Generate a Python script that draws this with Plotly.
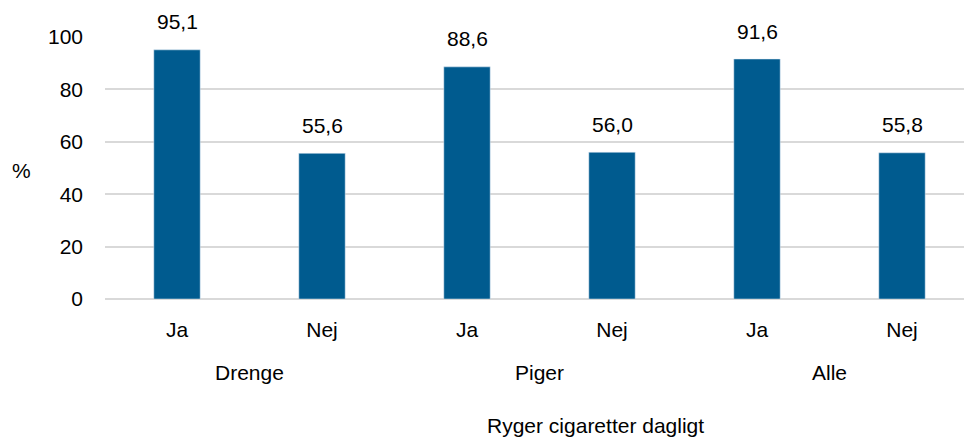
import plotly.graph_objects as go

groups = ["Drenge", "Piger", "Alle"]
answers = ["Ja", "Nej", "Ja", "Nej", "Ja", "Nej"]
values = [95.1, 55.6, 88.6, 56.0, 91.6, 55.8]

W, H = 964, 439
left, right, top, bottom = 105, 0, 37, 140
plot_w = W - left - right
plot_h = H - top - bottom
step = 145  # px per category
x0 = -(177 - left) / step
xs = list(range(len(answers)))

fig = go.Figure(go.Bar(
    x=xs, y=values, marker_color="#005B8F", width=0.32,
))

# value labels above the bars
for x, v in zip(xs, values):
    fig.add_annotation(x=x, y=v, text=f"{v:.1f}".replace(".", ","), showarrow=False,
                       yshift=28, font=dict(size=21))

# group labels under Ja/Nej
for i, g in enumerate(groups):
    fig.add_annotation(x=2 * i + 0.5, y=-(372 - 299) / plot_h, yref="paper", text=g,
                       showarrow=False, font=dict(size=21), yanchor="middle")

fig.update_layout(
    width=W, height=H,
    margin=dict(l=left, r=right, t=top, b=bottom),
    plot_bgcolor="white", paper_bgcolor="white",
    font=dict(family="Liberation Sans, Arial", size=21, color="#000000"),
    showlegend=False,
)
fig.update_xaxes(range=[x0, x0 + plot_w / step], tickvals=xs, ticktext=answers,
                 ticks="", showline=False, showgrid=False, zeroline=False,
                 ticklabelstandoff=16)
fig.update_yaxes(range=[0, 100], dtick=20, showgrid=True, gridcolor="#D9D9D9",
                 gridwidth=1.5, zeroline=True, zerolinecolor="#D9D9D9",
                 zerolinewidth=1.5, ticks="", ticklabelstandoff=21)
fig.add_annotation(text="%", xref="paper", yref="paper", x=-(105 - 21) / plot_w,
                   y=(299 - 170) / plot_h, showarrow=False, xanchor="center",
                   yanchor="middle")
fig.add_annotation(text="Ryger cigaretter dagligt", xref="paper", yref="paper",
                   x=(595 - left) / plot_w, y=-(425 - 299) / plot_h,
                   showarrow=False, yanchor="middle")

fig.write_html("out.html", config={"displayModeBar": False},
               post_script="document.body.style.margin='0';")
